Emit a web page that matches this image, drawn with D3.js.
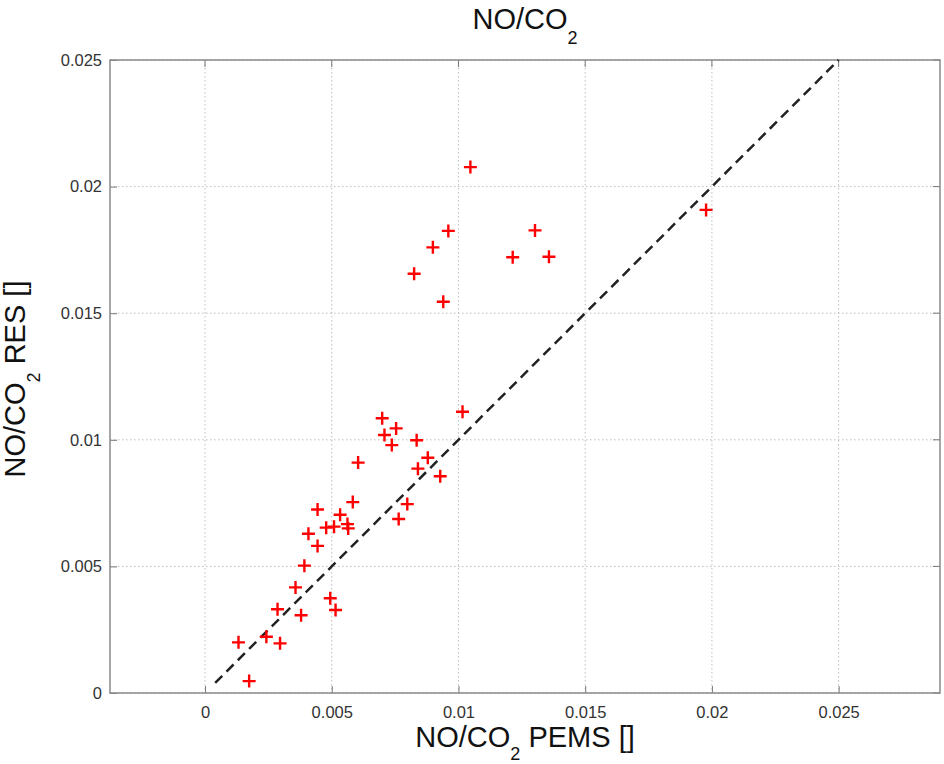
<!DOCTYPE html>
<html><head><meta charset="utf-8">
<script src="https://cdn.jsdelivr.net/npm/d3@7"></script>
<style>body{margin:0;background:#fff;} text{font-family:"Liberation Sans",Arial,sans-serif;}</style>
</head><body><svg id="c" width="944" height="764"></svg>
<script>
const pemsX = [0.00132,0.00174,0.00242,0.00296,0.00286,0.00357,0.00379,0.00392,0.00444,0.00408,0.00444,0.00494,0.00515,0.00478,0.00509,0.00533,0.00562,0.00565,0.00583,0.00604,0.00699,0.00708,0.00737,0.00754,0.00764,0.00798,0.00835,0.00840,0.00879,0.00928,0.01016,0.01047,0.00960,0.00899,0.00825,0.00940,0.01302,0.01214,0.01357,0.01977];
const resY  = [0.00200,0.00047,0.00222,0.00196,0.00331,0.00417,0.00307,0.00503,0.00581,0.00629,0.00725,0.00374,0.00328,0.00653,0.00657,0.00704,0.00667,0.00650,0.00754,0.00910,0.01085,0.01019,0.00979,0.01045,0.00687,0.00746,0.00998,0.00886,0.00929,0.00856,0.01111,0.02077,0.01825,0.01760,0.01656,0.01545,0.01827,0.01721,0.01723,0.01908];
const refLine = [0.0004, 0.025];
const xTicks = [0,0.005,0.01,0.015,0.02,0.025];
const yTicks = [0,0.005,0.01,0.015,0.02,0.025];
const xDomain = [-0.00375, 0.029];
const yDomain = [0, 0.025];

const L=110,R=940,T=60,B=693;
const svg=d3.select("#c");
const x=d3.scaleLinear().domain(xDomain).range([L,R]);
const y=d3.scaleLinear().domain(yDomain).range([B,T]);
const fmt=d=>d===0?"0":String(d);

// grid
const g=svg.append("g");
g.selectAll(".gx").data(xTicks).enter().append("line")
 .attr("x1",d=>x(d)).attr("x2",d=>x(d)).attr("y1",T).attr("y2",B)
 .attr("stroke","#bdbdbd").attr("stroke-width",1).attr("stroke-dasharray","1.5,2.5");
g.selectAll(".gy").data(yTicks).enter().append("line")
 .attr("y1",d=>y(d)).attr("y2",d=>y(d)).attr("x1",L).attr("x2",R)
 .attr("stroke","#bdbdbd").attr("stroke-width",1).attr("stroke-dasharray","1.5,2.5");

// axes
const xa=svg.append("g").attr("transform",`translate(0,${B})`)
 .call(d3.axisBottom(x).tickValues(xTicks).tickFormat(fmt).tickSizeInner(-7).tickSizeOuter(0).tickPadding(13));
const ya=svg.append("g").attr("transform",`translate(${L},0)`)
 .call(d3.axisLeft(y).tickValues(yTicks).tickFormat(fmt).tickSizeInner(-7).tickSizeOuter(0).tickPadding(8));
[xa,ya].forEach(a=>{a.select(".domain").remove();
 a.selectAll("line").attr("stroke","#777");
 a.selectAll("text").attr("font-size",16.5).attr("fill","#333").style("font-family","'Liberation Sans',Arial,sans-serif");});
// top/right ticks
svg.selectAll(".tt").data(xTicks).enter().append("line").attr("x1",d=>x(d)).attr("x2",d=>x(d)).attr("y1",T).attr("y2",T+7).attr("stroke","#777");
svg.selectAll(".rt").data(yTicks).enter().append("line").attr("y1",d=>y(d)).attr("y2",d=>y(d)).attr("x1",R).attr("x2",R-7).attr("stroke","#777");
// box
svg.append("rect").attr("x",L).attr("y",T).attr("width",R-L).attr("height",B-T)
 .attr("fill","none").attr("stroke","#8a8a8a").attr("stroke-width",1.5);

// reference line
svg.append("line").attr("x1",x(refLine[0])).attr("y1",y(refLine[0])).attr("x2",x(refLine[1])).attr("y2",y(refLine[1]))
 .attr("stroke","#222").attr("stroke-width",2.5).attr("stroke-dasharray","10,6");

// points
const pts=svg.append("g");
pemsX.forEach((v,i)=>{
 const cx=x(v), cy=y(resY[i]), s=6.5;
 pts.append("path").attr("d",`M${cx-s},${cy}H${cx+s}M${cx},${cy-s}V${cy+s}`)
  .attr("stroke","#f00").attr("stroke-width",2.4).attr("fill","none");
});

// title
const t=svg.append("text").attr("x",(L+R)/2).attr("y",29).attr("text-anchor","middle").attr("font-size",29).attr("fill","#111");
t.append("tspan").text("NO/CO");
t.append("tspan").text("2").attr("font-size",18).attr("dy",15);

// x label
const xl=svg.append("text").attr("x",(L+R)/2).attr("y",747).attr("text-anchor","middle").attr("font-size",29).attr("fill","#111");
xl.append("tspan").text("NO/CO");
xl.append("tspan").text("2").attr("font-size",18).attr("dy",13);
xl.append("tspan").text(" PEMS []").attr("dy",-13);

// y label
const yl=svg.append("text").attr("transform",`translate(25,379) rotate(-90)`).attr("text-anchor","middle").attr("font-size",29).attr("fill","#111");
yl.append("tspan").text("NO/CO");
yl.append("tspan").text("2").attr("font-size",18).attr("dy",15);
yl.append("tspan").text(" RES []").attr("dy",-15);
</script></body></html>
